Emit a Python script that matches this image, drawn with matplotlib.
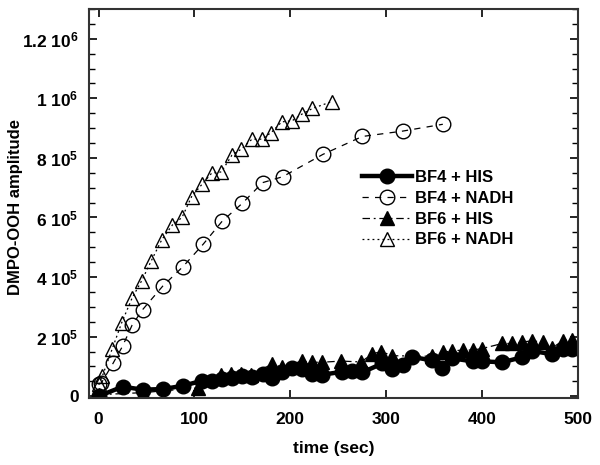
import matplotlib
matplotlib.use("Agg")
import matplotlib.pyplot as plt
from matplotlib.ticker import MultipleLocator

plt.rcParams['font.family'] = ['Liberation Sans', 'DejaVu Sans']
plt.rcParams['font.weight'] = 'bold'
plt.rcParams['mathtext.fontset'] = 'custom'
plt.rcParams['mathtext.rm'] = 'Liberation Sans:bold'
plt.rcParams['mathtext.it'] = 'Liberation Sans:bold'
plt.rcParams['mathtext.bf'] = 'Liberation Sans:bold'
plt.rcParams['mathtext.default'] = 'rm'

# ---- data ----
bf4_his_t = [0, 25, 46, 67, 88, 108, 118, 129, 139, 150, 160, 171, 181, 191, 202, 212,
             223, 233, 254, 264, 275, 296, 306, 317, 327, 348, 358, 369, 390, 400,
             421, 442, 452, 473, 484, 494]
bf4_his_y = [0, 32e3, 22e3, 24e3, 35e3, 52e3, 50e3, 58e3, 60e3, 68e3, 66e3, 74e3, 62e3,
             82e3, 95e3, 90e3, 76e3, 72e3, 82e3, 86e3, 80e3, 110e3, 92e3, 104e3, 132e3,
             120e3, 95e3, 127e3, 117e3, 117e3, 114e3, 131e3, 152e3, 141e3, 157e3, 157e3]

bf4_nadh_t = [0, 3, 15, 25, 35, 46, 67, 88, 109, 129, 150, 171, 192, 234, 275, 317, 359]
bf4_nadh_y = [40e3, 45e3, 110e3, 168e3, 239e3, 291e3, 370e3, 435e3, 510e3, 588e3, 648e3,
              717e3, 737e3, 812e3, 872e3, 890e3, 913e3]

bf6_his_t = [0, 46, 104, 128, 138, 149, 159, 181, 191, 212, 223, 233, 253, 274, 285, 295,
             306, 348, 359, 369, 380, 390, 400, 421, 431, 442, 452, 463, 473, 484, 494]
bf6_his_y = [5e3, 12e3, 28e3, 70e3, 76e3, 76e3, 72e3, 108e3, 98e3, 118e3, 114e3, 114e3,
             118e3, 115e3, 142e3, 150e3, 136e3, 134e3, 148e3, 152e3, 155e3, 155e3, 160e3,
             177e3, 177e3, 182e3, 186e3, 182e3, 162e3, 186e3, 190e3]

bf6_nadh_t = [0, 4, 14, 24, 35, 45, 55, 66, 77, 87, 97, 108, 118, 128, 139, 149, 160, 170,
              180, 191, 202, 212, 223, 243]
bf6_nadh_y = [40e3, 68e3, 157e3, 246e3, 330e3, 388e3, 455e3, 526e3, 575e3, 600e3, 670e3,
              712e3, 749e3, 753e3, 809e3, 830e3, 863e3, 863e3, 885e3, 921e3, 925e3,
              947e3, 966e3, 989e3]

labels = ['BF4 + HIS', 'BF4 + NADH', 'BF6 + HIS', 'BF6 + NADH']
ytick_vals = [0, 2e5, 4e5, 6e5, 8e5, 1e6, 1.2e6]
ytick_labels = ['0', r'2 10$^{5}$', r'4 10$^{5}$', r'6 10$^{5}$', r'8 10$^{5}$',
                r'1 10$^{6}$', r'1.2 10$^{6}$']
xtick_vals = [0, 100, 200, 300, 400, 500]

fig = plt.figure(figsize=(6.0, 4.65), dpi=100)
ax = fig.add_axes([89/600, 1-398/465, (578-89)/600, (398-9)/465])

ax.plot(bf4_nadh_t, bf4_nadh_y, linestyle=(0, (5, 5)), color='black', lw=0.9,
        marker='o', ms=10.5, mfc='none', mec='black', mew=1.0, label=labels[1])
ax.plot(bf6_nadh_t, bf6_nadh_y, linestyle=(0, (1.5, 2.5)), color='black', lw=0.9,
        marker='^', ms=10.5, mfc='none', mec='black', mew=1.0, label=labels[3])
ax.plot(bf6_his_t, bf6_his_y, linestyle=(0, (6, 3, 1.5, 3)), color='black', lw=0.9,
        marker='^', ms=10.5, mfc='black', mec='black', label=labels[2])
ax.plot(bf4_his_t, bf4_his_y, linestyle='-', color='black', lw=3.2,
        marker='o', ms=10.5, mfc='black', mec='black', label=labels[0])

ax.set_xlim(-10, 500)
ax.set_ylim(-6000, 1.3e6)
ax.set_xticks(xtick_vals)
ax.set_yticks(ytick_vals)
ax.set_yticklabels(ytick_labels)
ax.yaxis.set_minor_locator(MultipleLocator(5e4))
ax.tick_params(which='both', direction='in', top=True, right=True, labelsize=12.5)
ax.tick_params(axis='y', pad=7.5)
ax.tick_params(axis='x', pad=10)
ax.tick_params(which='major', length=6, width=1.2)
ax.tick_params(which='minor', length=4, width=1.0)
for s in ax.spines.values():
    s.set_linewidth(1.5)
    s.set_color('#333333')

ax.set_xlabel('time (sec)', fontsize=12.5, fontweight='bold', labelpad=10)
ax.set_ylabel('DMPO-OOH amplitude', fontsize=12, fontweight='bold')
ax.yaxis.set_label_coords(23/600, 1-207/465, transform=fig.transFigure)

h, l = ax.get_legend_handles_labels()
order = [l.index(x) for x in labels]
leg = ax.legend([h[i] for i in order], [l[i] for i in order], frameon=False,
                loc='upper left', bbox_to_anchor=(362/600, 1-170/465),
                bbox_transform=fig.transFigure, borderpad=0, borderaxespad=0,
                handlelength=3.0, handletextpad=0.15, labelspacing=0.35,
                prop={'size': 12, 'weight': 'bold'})

fig.savefig('out.png', dpi=100)
